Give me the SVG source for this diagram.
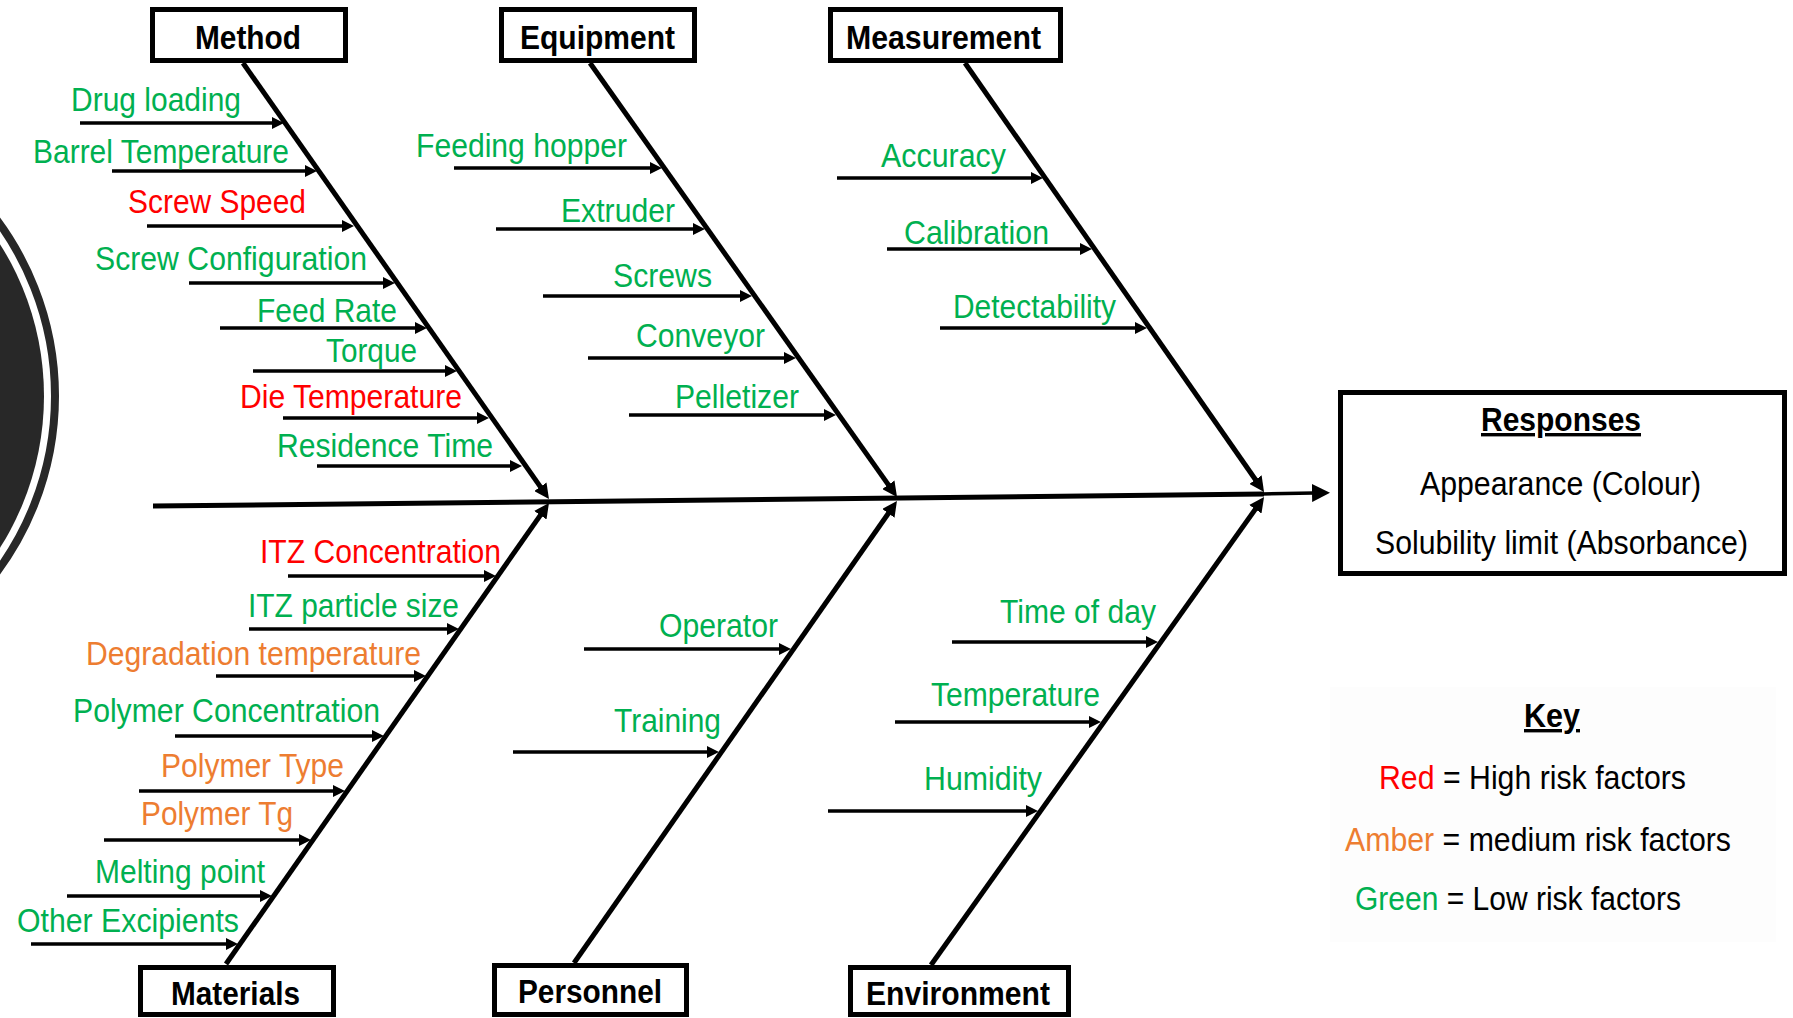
<svg xmlns="http://www.w3.org/2000/svg" width="1793" height="1018" viewBox="0 0 1793 1018">
<style>
.box{fill:#fff;stroke:#000;stroke-width:5}
.hd{font-family:"Liberation Sans",Arial,sans-serif;font-weight:bold;font-size:34px;fill:#000}
.t{font-family:"Liberation Sans",Arial,sans-serif;font-size:33px}
.g{fill:#00b050}
.r{fill:#ff0000}
.o{fill:#ed7d31}
.k{fill:#000}
.sub{stroke:#000;stroke-width:3.3;fill:none;marker-end:url(#ah)}
.bone{stroke:#000;stroke-width:5;fill:none;marker-end:url(#bh)}
</style>
<defs>
<marker id="ah" markerUnits="userSpaceOnUse" viewBox="0 0 12 12" markerWidth="12" markerHeight="12" refX="2" refY="6" orient="auto"><path d="M0,0 L12,6 L0,12 z" fill="#000"/></marker>
<marker id="bh" markerUnits="userSpaceOnUse" viewBox="0 0 15 15" markerWidth="15" markerHeight="15" refX="2" refY="7.5" orient="auto"><path d="M0,0 L15,7.5 L0,15 z" fill="#000"/></marker>
<marker id="sh" markerUnits="userSpaceOnUse" viewBox="0 0 18 18" markerWidth="18" markerHeight="18" refX="2" refY="9" orient="auto"><path d="M0,0 L18,9 L0,18 z" fill="#000"/></marker>
</defs>
<rect width="1793" height="1018" fill="#fff"/>
<g id="decor-circle">
<circle cx="-240" cy="396" r="295" fill="none" stroke="#282828" stroke-width="8"/>
<circle cx="-240" cy="396" r="284" fill="#282828"/>
</g>
<rect id="key-bg" x="1330" y="687" width="446" height="255" fill="#fdfdfd"/>

<g id="connectors">
<polyline points="153,506 1264,494" stroke="#000" stroke-width="5" fill="none"/>
<line x1="1262" y1="494" x2="1314" y2="493" stroke="#000" stroke-width="3.5" marker-end="url(#sh)"/>
<line class="bone" x1="243" y1="63" x2="541.5" y2="488.4"/>
<line class="bone" x1="590" y1="63" x2="889.5" y2="486.4"/>
<line class="bone" x1="965" y1="63" x2="1256.6" y2="481.3"/>
<line class="bone" x1="226" y1="964" x2="541.5" y2="513.6"/>
<line class="bone" x1="574" y1="963" x2="889.5" y2="511.7"/>
<line class="bone" x1="931" y1="965" x2="1256.5" y2="507.6"/>
<!-- Method causes -->
<line class="sub" x1="80" y1="123" x2="274" y2="123"/>
<line class="sub" x1="112" y1="171" x2="307" y2="171"/>
<line class="sub" x1="147" y1="226" x2="344" y2="226"/>
<line class="sub" x1="189" y1="283" x2="385" y2="283"/>
<line class="sub" x1="220" y1="328" x2="417" y2="328"/>
<line class="sub" x1="253" y1="371" x2="447" y2="371"/>
<line class="sub" x1="283" y1="418" x2="479" y2="418"/>
<line class="sub" x1="317" y1="466" x2="512" y2="466"/>
<!-- Equipment causes -->
<line class="sub" x1="454" y1="168" x2="652" y2="168"/>
<line class="sub" x1="496" y1="229" x2="695" y2="229"/>
<line class="sub" x1="543" y1="296" x2="742" y2="296"/>
<line class="sub" x1="588" y1="358" x2="786" y2="358"/>
<line class="sub" x1="629" y1="415" x2="826" y2="415"/>
<!-- Measurement causes -->
<line class="sub" x1="837" y1="178" x2="1033" y2="178"/>
<line class="sub" x1="887" y1="249" x2="1082" y2="249"/>
<line class="sub" x1="940" y1="328" x2="1137" y2="328"/>
<!-- Materials causes -->
<line class="sub" x1="288" y1="576" x2="486" y2="576"/>
<line class="sub" x1="249" y1="629" x2="449" y2="629"/>
<line class="sub" x1="216" y1="676" x2="416" y2="676"/>
<line class="sub" x1="175" y1="736" x2="374" y2="736"/>
<line class="sub" x1="139" y1="791" x2="335" y2="791"/>
<line class="sub" x1="104" y1="840" x2="301" y2="840"/>
<line class="sub" x1="67" y1="896" x2="262" y2="896"/>
<line class="sub" x1="31" y1="944" x2="228" y2="944"/>
<!-- Personnel causes -->
<line class="sub" x1="584" y1="649" x2="781" y2="649"/>
<line class="sub" x1="513" y1="752" x2="709" y2="752"/>
<!-- Environment causes -->
<line class="sub" x1="952" y1="642" x2="1148" y2="642"/>
<line class="sub" x1="895" y1="722" x2="1091" y2="722"/>
<line class="sub" x1="828" y1="811" x2="1028" y2="811"/>
</g>

<g id="method"><rect class="box" x="152.5" y="9.5" width="193" height="51"/><text class="hd" x="195" y="49" textLength="106" lengthAdjust="spacingAndGlyphs">Method</text></g>
<g id="equipment"><rect class="box" x="501.5" y="9.5" width="193" height="51"/><text class="hd" x="520" y="49" textLength="155" lengthAdjust="spacingAndGlyphs">Equipment</text></g>
<g id="measurement"><rect class="box" x="830.5" y="9.5" width="230" height="51"/><text class="hd" x="846" y="49" textLength="195" lengthAdjust="spacingAndGlyphs">Measurement</text></g>
<g id="materials"><rect class="box" x="140.5" y="967.5" width="193" height="47"/><text class="hd" x="171" y="1005" textLength="129" lengthAdjust="spacingAndGlyphs">Materials</text></g>
<g id="personnel"><rect class="box" x="494.5" y="965.5" width="192" height="49"/><text class="hd" x="518" y="1003" textLength="144" lengthAdjust="spacingAndGlyphs">Personnel</text></g>
<g id="environment"><rect class="box" x="850.5" y="967.5" width="218" height="47"/><text class="hd" x="866" y="1005" textLength="184" lengthAdjust="spacingAndGlyphs">Environment</text></g>

<g id="responses">
<rect class="box" x="1340.5" y="392.5" width="444" height="181"/>
<text class="hd" x="1481" y="431" textLength="160" lengthAdjust="spacingAndGlyphs" text-decoration="underline">Responses</text>
<text class="t k" x="1420" y="495" textLength="281" lengthAdjust="spacingAndGlyphs">Appearance (Colour)</text>
<text class="t k" x="1375" y="554" textLength="373" lengthAdjust="spacingAndGlyphs">Solubility limit (Absorbance)</text>
</g>

<g id="method-causes">
<text class="t g" x="71" y="111" textLength="170" lengthAdjust="spacingAndGlyphs">Drug loading</text>
<text class="t g" x="33" y="163" textLength="256" lengthAdjust="spacingAndGlyphs">Barrel Temperature</text>
<text class="t r" x="128" y="213" textLength="178" lengthAdjust="spacingAndGlyphs">Screw Speed</text>
<text class="t g" x="95" y="270" textLength="272" lengthAdjust="spacingAndGlyphs">Screw Configuration</text>
<text class="t g" x="257" y="322" textLength="140" lengthAdjust="spacingAndGlyphs">Feed Rate</text>
<text class="t g" x="326" y="362" textLength="91" lengthAdjust="spacingAndGlyphs">Torque</text>
<text class="t r" x="240" y="408" textLength="222" lengthAdjust="spacingAndGlyphs">Die Temperature</text>
<text class="t g" x="277" y="457" textLength="216" lengthAdjust="spacingAndGlyphs">Residence Time</text>
</g>
<g id="equipment-causes">
<text class="t g" x="416" y="157" textLength="211" lengthAdjust="spacingAndGlyphs">Feeding hopper</text>
<text class="t g" x="561" y="222" textLength="114" lengthAdjust="spacingAndGlyphs">Extruder</text>
<text class="t g" x="613" y="287" textLength="99" lengthAdjust="spacingAndGlyphs">Screws</text>
<text class="t g" x="636" y="347" textLength="129" lengthAdjust="spacingAndGlyphs">Conveyor</text>
<text class="t g" x="675" y="408" textLength="124" lengthAdjust="spacingAndGlyphs">Pelletizer</text>
</g>
<g id="measurement-causes">
<text class="t g" x="881" y="167" textLength="125" lengthAdjust="spacingAndGlyphs">Accuracy</text>
<text class="t g" x="904" y="244" textLength="145" lengthAdjust="spacingAndGlyphs">Calibration</text>
<text class="t g" x="953" y="318" textLength="163" lengthAdjust="spacingAndGlyphs">Detectability</text>
</g>
<g id="materials-causes">
<text class="t r" x="260" y="563" textLength="241" lengthAdjust="spacingAndGlyphs">ITZ Concentration</text>
<text class="t g" x="248" y="617" textLength="211" lengthAdjust="spacingAndGlyphs">ITZ particle size</text>
<text class="t o" x="86" y="665" textLength="335" lengthAdjust="spacingAndGlyphs">Degradation temperature</text>
<text class="t g" x="73" y="722" textLength="307" lengthAdjust="spacingAndGlyphs">Polymer Concentration</text>
<text class="t o" x="161" y="777" textLength="183" lengthAdjust="spacingAndGlyphs">Polymer Type</text>
<text class="t o" x="141" y="825" textLength="152" lengthAdjust="spacingAndGlyphs">Polymer Tg</text>
<text class="t g" x="95" y="883" textLength="170" lengthAdjust="spacingAndGlyphs">Melting point</text>
<text class="t g" x="17" y="932" textLength="222" lengthAdjust="spacingAndGlyphs">Other Excipients</text>
</g>
<g id="personnel-causes">
<text class="t g" x="659" y="637" textLength="119" lengthAdjust="spacingAndGlyphs">Operator</text>
<text class="t g" x="614" y="732" textLength="107" lengthAdjust="spacingAndGlyphs">Training</text>
</g>
<g id="environment-causes">
<text class="t g" x="1000" y="623" textLength="156" lengthAdjust="spacingAndGlyphs">Time of day</text>
<text class="t g" x="931" y="706" textLength="169" lengthAdjust="spacingAndGlyphs">Temperature</text>
<text class="t g" x="924" y="790" textLength="118" lengthAdjust="spacingAndGlyphs">Humidity</text>
</g>

<g id="key">
<text class="hd" x="1524" y="727" textLength="56" lengthAdjust="spacingAndGlyphs" text-decoration="underline">Key</text>
<text class="t k" x="1379" y="789" textLength="307" lengthAdjust="spacingAndGlyphs"><tspan class="r">Red</tspan> = High risk factors</text>
<text class="t k" x="1345" y="851" textLength="386" lengthAdjust="spacingAndGlyphs"><tspan class="o">Amber</tspan> = medium risk factors</text>
<text class="t k" x="1355" y="910" textLength="326" lengthAdjust="spacingAndGlyphs"><tspan class="g">Green</tspan> = Low risk factors</text>
</g>
</svg>
